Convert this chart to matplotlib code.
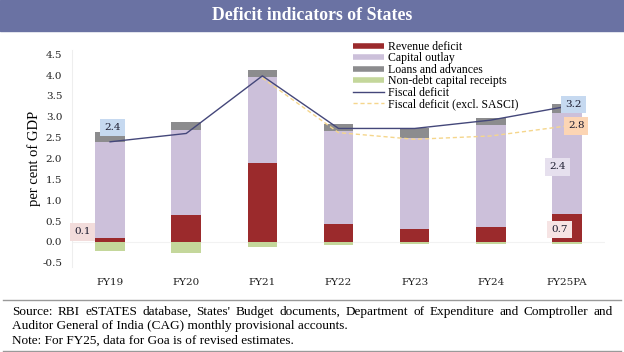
import numpy as np
import matplotlib
matplotlib.use("Agg")
import matplotlib.pyplot as plt
from matplotlib.lines import Line2D
from matplotlib.patches import Rectangle

years = ["FY19", "FY20", "FY21", "FY22", "FY23", "FY24", "FY25PA"]
revenue = [0.10, 0.65, 1.90, 0.44, 0.31, 0.35, 0.66]
capital = [2.30, 2.03, 2.05, 2.22, 2.19, 2.45, 2.44]
loans = [0.24, 0.20, 0.18, 0.16, 0.24, 0.17, 0.21]
ndcr = [-0.21, -0.27, -0.11, -0.08, -0.04, -0.06, -0.05]
fiscal = [2.40, 2.60, 3.98, 2.72, 2.72, 2.92, 3.25]
fiscal_ex = [np.nan, np.nan, 3.93, 2.62, 2.46, 2.54, 2.78]
yticks = [-0.5, 0.0, 0.5, 1.0, 1.5, 2.0, 2.5, 3.0, 3.5, 4.0, 4.5]

c_rev = "#9b2a2c"
c_cap = "#ccc0da"
c_loan = "#8c8c8e"
c_nd = "#c4d79b"
c_fd = "#44477a"
c_fdx = "#f5d68c"

serif = ["Liberation Serif", "DejaVu Serif"]

fig = plt.figure(figsize=(6.24, 3.52), dpi=100)
fig.patches.append(Rectangle((0, 1 - 31 / 352), 1, 31 / 352, transform=fig.transFigure,
                             color="#6a72a3", zorder=0))
fig.text(0.5, 1 - 16 / 352, "Deficit indicators of States", ha="center", va="center",
         color="white", fontsize=12.8, fontweight="bold", family=serif)

ax = fig.add_axes([72 / 624, 85 / 352, 533 / 624, 217 / 352])
x = np.arange(len(years))
w = 0.39
rev = np.array(revenue)
cap = np.array(capital)
ax.bar(x, rev, w, color=c_rev, zorder=2)
ax.bar(x, cap, w, bottom=rev, color=c_cap, zorder=2)
ax.bar(x, loans, w, bottom=rev + cap, color=c_loan, zorder=2)
ax.bar(x, ndcr, w, color=c_nd, zorder=2)
ax.plot(x, fiscal_ex, color=c_fdx, lw=1, ls=(0, (3, 2)), zorder=3)
ax.plot(x, fiscal, color=c_fd, lw=1, zorder=4)

ax.set_xlim(-0.5, 6.5)
ax.set_ylim(-0.6, 4.6)
ax.set_yticks(yticks)
ax.set_yticklabels(["%.1f" % v for v in yticks])
ax.set_xticks(x)
ax.set_xticklabels(years)
for lab in ax.get_xticklabels() + ax.get_yticklabels():
    lab.set_family("DejaVu Serif")
    lab.set_fontsize(7.5)
    lab.set_color("#222222")
ax.tick_params(length=0)
ax.tick_params(axis="y", pad=7)
ax.tick_params(axis="x", pad=8)
for s in ["top", "right", "bottom"]:
    ax.spines[s].set_visible(False)
ax.spines["left"].set_color("#eeeeee")
ax.axhline(0, color="#f2f2f2", lw=0.8, zorder=1)
ax.set_ylabel("per cent of GDP", family=serif, fontsize=10.5, labelpad=1)

def box(xv, yv, txt, fc):
    ax.text(xv, yv, txt, ha="center", va="center", fontsize=7.5, family="DejaVu Serif",
            color="#1a1a2e", zorder=6,
            bbox=dict(boxstyle="square,pad=0.4", fc=fc, ec="none"))

box(0.03, 2.74, "%.1f" % fiscal[0], "#c6d9f0")
box(-0.36, 0.24, "%.1f" % revenue[0], "#f2dcdb")
box(6.09, 3.30, "%.1f" % 3.2, "#c6d9f0")
box(6.12, 2.78, "%.1f" % fiscal_ex[6], "#fcd5b4")
box(5.88, 1.80, "%.1f" % capital[6], "#e6e0ee")
box(5.90, 0.30, "%.1f" % 0.7, "#f6e4e4")

handles = [Line2D([], [], color=c_rev, lw=4, solid_capstyle="butt"),
           Line2D([], [], color=c_cap, lw=4, solid_capstyle="butt"),
           Line2D([], [], color=c_loan, lw=4, solid_capstyle="butt"),
           Line2D([], [], color=c_nd, lw=4, solid_capstyle="butt"),
           Line2D([], [], color=c_fd, lw=1),
           Line2D([], [], color=c_fdx, lw=1, ls=(0, (3, 2)))]
labels = ["Revenue deficit", "Capital outlay", "Loans and advances",
          "Non-debt capital receipts", "Fiscal deficit", "Fiscal deficit (excl. SASCI)"]
fig.legend(handles, labels, loc="upper left", bbox_to_anchor=(353 / 624, 1 - 41 / 352),
           frameon=False, prop={"family": serif, "size": 8.5}, handlelength=2.6,
           handletextpad=0.35, labelspacing=-0.05, borderpad=0, borderaxespad=0)

# separator lines
fig.add_artist(Line2D([0.005, 0.995], [1 - 300 / 352] * 2, color="#9a9a9a", lw=1))
fig.add_artist(Line2D([0.005, 0.995], [1 - 351 / 352] * 2, color="#9a9a9a", lw=1))

src1 = ("Source: RBI eSTATES database, States' Budget documents, Department of "
        "Expenditure and Comptroller and")
src2 = "Auditor General of India (CAG) monthly provisional accounts."
note = "Note: For FY25, data for Goa is of revised estimates."

renderer = fig.canvas.get_renderer()
def justified(line, y, x0, x1):
    words = line.split(" ")
    arts = [fig.text(0, y, wd, fontsize=9.5, family=serif, va="center") for wd in words]
    widths = [a.get_window_extent(renderer).width for a in arts]
    gap = (x1 - x0 - sum(widths)) / (len(words) - 1)
    pos = x0
    for a, wd in zip(arts, widths):
        a.set_x(pos / 624)
        pos += wd + gap

justified(src1, 1 - 312 / 352, 12, 613)
fig.text(12 / 624, 1 - 326 / 352, src2, fontsize=9.5, family=serif, va="center")
fig.text(12 / 624, 1 - 341 / 352, note, fontsize=9.5, family=serif, va="center")

fig.savefig("out.png", dpi=100)
